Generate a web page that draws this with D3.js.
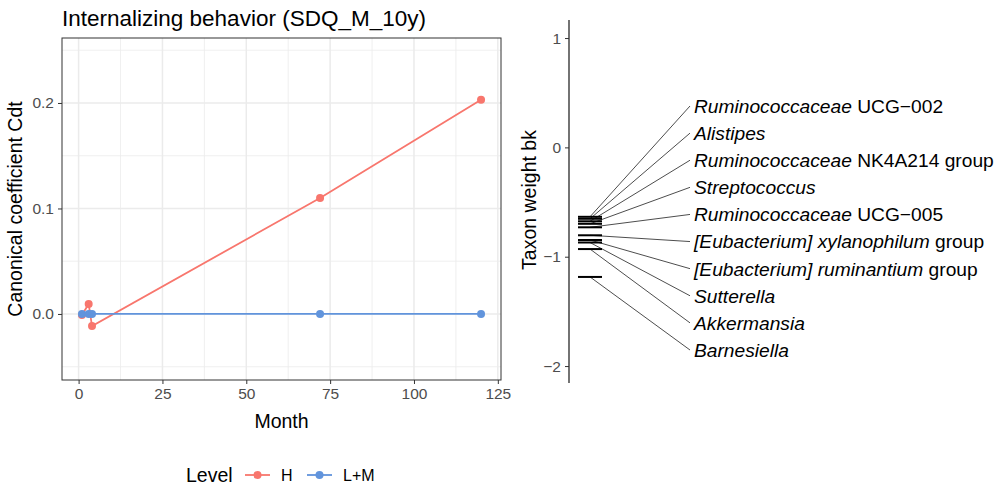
<!DOCTYPE html>
<html>
<head>
<meta charset="utf-8">
<script src="https://cdn.jsdelivr.net/npm/d3@7"></script>
<style>
  body { margin: 0; background: #fff; }
  text { font-family: "Liberation Sans", Arial, sans-serif; }
</style>
</head>
<body>
<div id="canvas"></div>
<script>
// left panel data
const months = [1, 3, 4, 72, 120];
const valuesH = [-0.001, 0.0095, -0.0115, 0.11, 0.203];
const valuesLM = [0, 0, 0, 0, 0];
const levels = ['H', 'L+M'];
const levelColors = ['#F8766D', '#6194DC'];
const xTicks = [0, 25, 50, 75, 100, 125];
const yTicks = [0, 0.1, 0.2];

// right panel data
const taxaItalic = ['Ruminococcaceae', 'Alistipes', 'Ruminococcaceae', 'Streptococcus', 'Ruminococcaceae',
  '[Eubacterium] xylanophilum', '[Eubacterium] ruminantium', 'Sutterella', 'Akkermansia', 'Barnesiella'];
const taxaPlain = [' UCG\u2212002', '', ' NK4A214 group', '', ' UCG\u2212005',
  ' group', ' group', '', '', ''];
const taxaWeights = [-0.635, -0.653, -0.676, -0.699, -0.731, -0.804, -0.847, -0.870, -0.930, -1.185];
const wTicks = [1, 0, -1, -2];

const svg = d3.select('#canvas').append('svg')
  .attr('width', 997).attr('height', 487);

// ---------- left panel ----------
const p = { left: 62, right: 501, top: 38, bottom: 380 };
const x = d3.scaleLinear().domain([-4.95, 125.95]).range([p.left, p.right]);
const y = d3.scaleLinear().domain([-0.0626, 0.2616]).range([p.bottom, p.top]);

svg.append('text').attr('x', 62).attr('y', 26)
  .attr('font-size', 22.5).attr('fill', '#000')
  .text('Internalizing behavior (SDQ_M_10y)');

const grid = svg.append('g');
const xMinor = [12.5, 37.5, 62.5, 87.5, 112.5];
const yMinor = [-0.05, 0.05, 0.15, 0.25];
grid.selectAll('.xm').data(xMinor).enter().append('line')
  .attr('x1', d => x(d)).attr('x2', d => x(d)).attr('y1', p.top).attr('y2', p.bottom)
  .attr('stroke', '#EBEBEB').attr('stroke-width', 0.8);
grid.selectAll('.ym').data(yMinor).enter().append('line')
  .attr('y1', d => y(d)).attr('y2', d => y(d)).attr('x1', p.left).attr('x2', p.right)
  .attr('stroke', '#EBEBEB').attr('stroke-width', 0.8);
grid.selectAll('.xM').data(xTicks).enter().append('line')
  .attr('x1', d => x(d)).attr('x2', d => x(d)).attr('y1', p.top).attr('y2', p.bottom)
  .attr('stroke', '#EBEBEB').attr('stroke-width', 1.5);
grid.selectAll('.yM').data(yTicks).enter().append('line')
  .attr('y1', d => y(d)).attr('y2', d => y(d)).attr('x1', p.left).attr('x2', p.right)
  .attr('stroke', '#EBEBEB').attr('stroke-width', 1.5);

const series = [valuesH, valuesLM];
const line = d3.line().x((d, i) => x(months[i])).y(d => y(d));
series.forEach((vals, k) => {
  svg.append('path').attr('d', line(vals))
    .attr('fill', 'none').attr('stroke', levelColors[k]).attr('stroke-width', 1.8);
  svg.selectAll('.pt' + k).data(vals).enter().append('circle')
    .attr('cx', (d, i) => x(months[i])).attr('cy', d => y(d))
    .attr('r', 4).attr('fill', levelColors[k]);
});

svg.append('rect').attr('x', p.left).attr('y', p.top)
  .attr('width', p.right - p.left).attr('height', p.bottom - p.top)
  .attr('fill', 'none').attr('stroke', '#333').attr('stroke-width', 1);

const xAxis = svg.append('g').attr('transform', `translate(0,${p.bottom})`)
  .call(d3.axisBottom(x).tickValues(xTicks).tickSize(4).tickPadding(4));
const yAxis = svg.append('g').attr('transform', `translate(${p.left},0)`)
  .call(d3.axisLeft(y).tickValues(yTicks).tickFormat(d3.format('.1f')).tickSize(4).tickPadding(4));
[xAxis, yAxis].forEach(a => {
  a.select('.domain').remove();
  a.selectAll('.tick line').attr('stroke', '#333').attr('stroke-width', 1);
  a.selectAll('.tick text').attr('fill', '#4D4D4D').attr('font-size', 15.5)
    .attr('font-family', '"Liberation Sans", Arial, sans-serif');
});

svg.append('text').attr('x', (p.left + p.right) / 2).attr('y', 428)
  .attr('text-anchor', 'middle').attr('font-size', 19.5).text('Month');
svg.append('text').attr('transform', `translate(22,${(p.top + p.bottom) / 2}) rotate(-90)`)
  .attr('text-anchor', 'middle').attr('font-size', 19.5).text('Canonical coefficient Cdt');

// legend
const lg = svg.append('g');
lg.append('text').attr('x', 186).attr('y', 482).attr('font-size', 19.5).text('Level');
const legX = [245, 307];
levels.forEach((lv, k) => {
  lg.append('line').attr('x1', legX[k]).attr('x2', legX[k] + 25).attr('y1', 475).attr('y2', 475)
    .attr('stroke', levelColors[k]).attr('stroke-width', 1.8);
  lg.append('circle').attr('cx', legX[k] + 12.5).attr('cy', 475).attr('r', 4).attr('fill', levelColors[k]);
  lg.append('text').attr('x', legX[k] + 36).attr('y', 481).attr('font-size', 16).text(lv);
});

// ---------- right panel ----------
const ax = 569;
const w = d3.scaleLinear().domain([-2.155, 1.165]).range([383, 20]);
const wAxis = svg.append('g').attr('transform', `translate(${ax},0)`)
  .call(d3.axisLeft(w).tickValues(wTicks).tickFormat(d => d3.format('d')(d).replace('-', '\u2212'))
    .tickSize(4).tickPadding(4));
wAxis.select('.domain').attr('d', `M0,${w.range()[1]}V${w.range()[0]}`).attr('stroke', '#000').attr('stroke-width', 1.1);
wAxis.selectAll('.tick line').attr('stroke', '#333');
wAxis.selectAll('.tick text').attr('fill', '#4D4D4D').attr('font-size', 15.5)
  .attr('font-family', '"Liberation Sans", Arial, sans-serif');

svg.append('text').attr('transform', `translate(536,200) rotate(-90)`)
  .attr('text-anchor', 'middle').attr('font-size', 19.5).text('Taxon weight bk');

const labelY = d3.scalePoint().domain(d3.range(taxaWeights.length)).range([106, 350]);
const barX0 = 578, barX1 = 602, segX0 = 590, segX1 = 690, labX = 694;

svg.selectAll('.seg').data(taxaWeights).enter().append('line')
  .attr('x1', segX0).attr('y1', d => w(d)).attr('x2', segX1).attr('y2', (d, i) => labelY(i))
  .attr('stroke', '#000').attr('stroke-width', 0.7);
svg.selectAll('.bar').data(taxaWeights).enter().append('line')
  .attr('x1', barX0).attr('x2', barX1).attr('y1', d => w(d)).attr('y2', d => w(d))
  .attr('stroke', '#000').attr('stroke-width', 2);

const lab = svg.selectAll('.lab').data(taxaWeights).enter().append('text')
  .attr('x', labX).attr('y', (d, i) => labelY(i)).attr('dy', '0.36em')
  .attr('font-size', 19.2).attr('fill', '#000');
lab.append('tspan').attr('font-style', 'italic').text((d, i) => taxaItalic[i]);
lab.append('tspan').text((d, i) => taxaPlain[i]);
</script>
</body>
</html>
